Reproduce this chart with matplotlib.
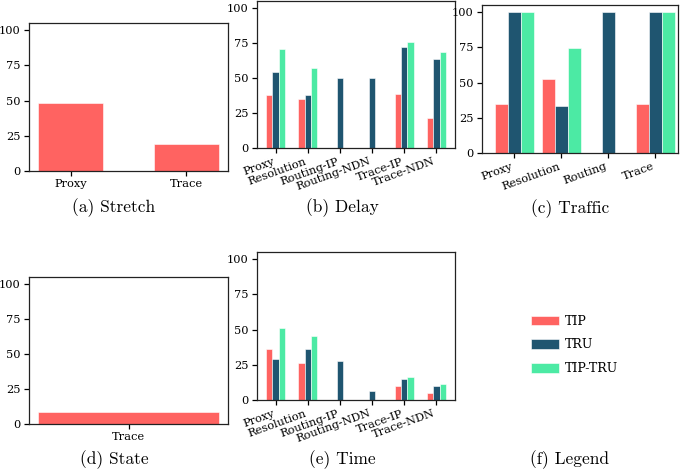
import numpy as np
import matplotlib
matplotlib.use("Agg")
import matplotlib.pyplot as plt

# colours of the three variants
TIP_COLOR = "#ff6361"
TRU_COLOR = "#1f5570"
BOTH_COLOR = "#4ceaa4"

series_names = ["TIP", "TRU", "TIP-TRU"]

stretch_cats = ["Proxy", "Trace"]
stretch_tip = [48.5, 19.5]

delay_cats = ["Proxy", "Resolution", "Routing-IP", "Routing-NDN", "Trace-IP", "Trace-NDN"]
delay_tip = [37.7, 34.7, 0, 0, 38.7, 21.4]
delay_tru = [54.6, 37.5, 50.3, 50.3, 72.0, 63.9]
delay_both = [70.5, 57.0, 0, 0, 75.7, 68.9]

traffic_cats = ["Proxy", "Resolution", "Routing", "Trace"]
traffic_tip = [35.0, 52.7, 0, 35.0]
traffic_tru = [100, 33.5, 100, 100]
traffic_both = [100, 74.2, 0, 100]

state_cats = ["Trace"]
state_tip = [8.7]

time_cats = ["Proxy", "Resolution", "Routing-IP", "Routing-NDN", "Trace-IP", "Trace-NDN"]
time_tip = [36.3, 26.0, 0, 0, 10.2, 5.0]
time_tru = [29.1, 36.0, 28.0, 6.4, 14.7, 9.7]
time_both = [51.0, 45.3, 0, 0, 16.6, 11.6]

W, H = 685, 471
TICK_FS = 8.2
CAP_FS = 12.5

plt.rcParams['font.family'] = 'DejaVu Serif'

fig = plt.figure(figsize=(W / 100, H / 100), dpi=100)


def px_axes(x0, y0, x1, y1):
    """axes from pixel box (top-left origin)"""
    return fig.add_axes([x0 / W, 1 - y1 / H, (x1 - x0) / W, (y1 - y0) / H])


def style(ax):
    ax.set_ylim(0, 105)
    ax.set_yticks([0, 25, 50, 75, 100])
    ax.tick_params(labelsize=TICK_FS, length=3.5, width=0.9, color='black', pad=2.5)
    for s in ax.spines.values():
        s.set_linewidth(0.9)
        s.set_color('#222222')


def caption(x, y, text):
    fig.text(x / W, 1 - y / H, text, ha='center', va='center',
             fontsize=CAP_FS, family='cmr10')


def grouped(ax, cats, tip, tru, both, width):
    x = np.arange(len(cats))
    bars = []
    for off, vals, c in zip([-width, 0, width], [tip, tru, both],
                            [TIP_COLOR, TRU_COLOR, BOTH_COLOR]):
        bars.append(ax.bar(x + off, vals, width, color=c,
                           edgecolor='white', linewidth=0.4))
    ax.set_xticks(x)
    ax.set_xticklabels(cats, rotation=20, ha='right')
    return bars


# (a) Stretch
ax = px_axes(29, 23, 228, 171)
ax.bar(stretch_cats, stretch_tip, 0.56, color=TIP_COLOR, edgecolor='white', linewidth=0.4)
style(ax)
caption(114, 208, "(a) Stretch")

# (b) Delay
ax = px_axes(257, 1, 455, 148)
grouped(ax, delay_cats, delay_tip, delay_tru, delay_both, 0.2)
style(ax)
caption(342, 208, "(b) Delay")

# (c) Traffic
ax = px_axes(482, 5, 678, 153)
handles = grouped(ax, traffic_cats, traffic_tip, traffic_tru, traffic_both, 0.28)
ax.set_xlim(-0.69, 3.48)
style(ax)
caption(570, 209, "(c) Traffic")

# (d) State
ax = px_axes(29, 277, 228, 424)
ax.bar(state_cats, state_tip, 0.8, color=TIP_COLOR, edgecolor='white', linewidth=0.4)
style(ax)
caption(114, 460, "(d) State")

# (e) Time
ax = px_axes(257, 252, 455, 400)
grouped(ax, time_cats, time_tip, time_tru, time_both, 0.2)
style(ax)
caption(342, 460, "(e) Time")

# (f) Legend
fig.legend(handles, series_names, loc='center left',
           bbox_to_anchor=(520 / W, 1 - 345 / H), frameon=False,
           fontsize=9, handlelength=2.2, handleheight=0.8,
           labelspacing=0.85, handletextpad=0.5)
caption(570, 460, "(f) Legend")

fig.savefig("out.png", dpi=100)
